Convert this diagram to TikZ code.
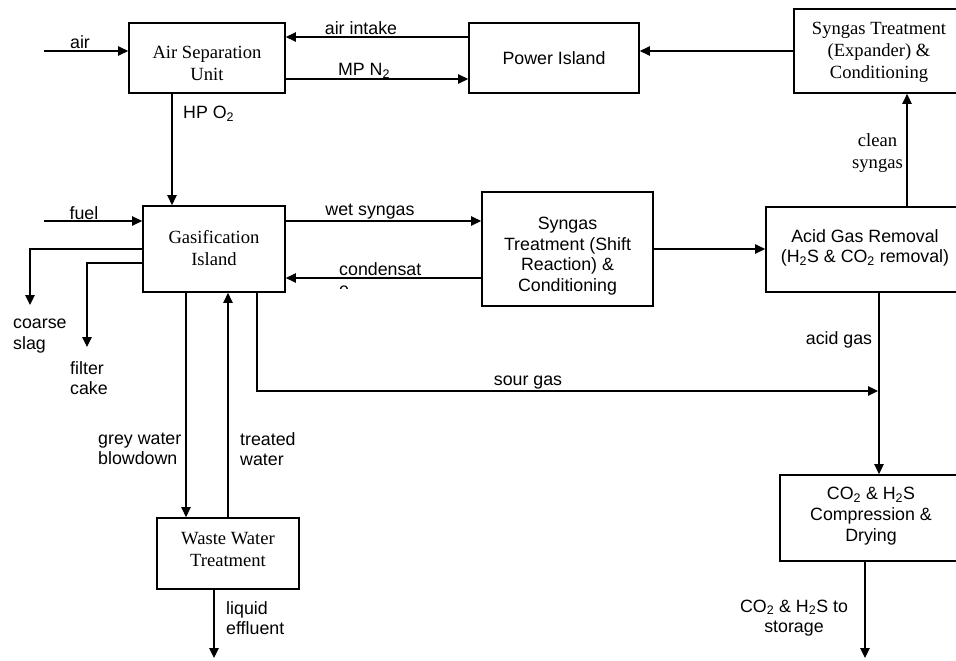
\documentclass[tikz,border=0pt]{standalone}
\usepackage{fontspec}
\setmainfont{Liberation Serif}
\setsansfont{Liberation Sans}
\usetikzlibrary{arrows.meta}
\begin{document}
\begin{tikzpicture}[x=1pt,y=-1pt,
  box/.style={draw,line width=1.8pt,rectangle,inner sep=0pt},
  serift/.style={align=center,inner sep=0pt,font=\rmfamily\fontsize{18.6}{22}\selectfont},
  sanst/.style={align=center,inner sep=0pt,font=\sffamily\fontsize{17.8}{20.7}\selectfont},
  lbl/.style={font=\sffamily\fontsize{17.8}{20.5}\selectfont,inner sep=0pt},
  flow/.style={line width=1.2pt,-{Triangle[length=10pt,width=9.5pt]}}]
\useasboundingbox (0,0) rectangle (956,661);
\clip (0,0) rectangle (956,661);
\fill[white] (0,0) rectangle (956,661);

% boxes
\node[box,minimum width=156pt,minimum height=70pt] (asu) at (207,58) {};
\node[serift] (asut) at (207,63) {Air Separation\\Unit};
\node[box,minimum width=170pt,minimum height=70pt] (power) at (554,58) {};
\node[sanst] (powert) at (554,58) {Power Island};
\node[box,minimum width=200pt,minimum height=84pt] (exp) at (894,51) {};
\node[serift] (expt) at (879,52) {Syngas Treatment\\(Expander) \&\\Conditioning};
\node[box,minimum width=142pt,minimum height=86pt] (gas) at (214,249) {};
\node[serift] (gast) at (214,248) {Gasification\\Island};
\node[box,minimum width=171pt,minimum height=114pt] (shift) at (567.5,249) {};
\node[sanst] (shiftt) at (567.5,256) {Syngas\\Treatment (Shift\\Reaction) \&\\Conditioning};
\node[box,minimum width=228pt,minimum height=85pt] (agr) at (880,249.5) {};
\node[sanst] (agrt) at (865,248) {Acid Gas Removal\\(H\textsubscript{2}S \& CO\textsubscript{2} removal)};
\node[box,minimum width=142pt,minimum height=71pt] (wwt) at (228,553.5) {};
\node[serift] (wwtt) at (228,549.5) {Waste Water\\Treatment};
\node[box,minimum width=210pt,minimum height=86pt] (comp) at (885,518) {};
\node[sanst] (compt) at (871,516) {CO\textsubscript{2} \& H\textsubscript{2}S\\Compression \&\\Drying};

% helper coordinates
\coordinate (airin) at (44,51);
\coordinate (yAI) at (0,37);
\coordinate (yMP) at (0,79);
\coordinate (yPI) at (0,51);
\coordinate (xCS) at (907,0);
\coordinate (xHP) at (172,0);
\coordinate (fuelin) at (44,221);
\coordinate (yWS) at (0,221);
\coordinate (yCD) at (0,278);
\coordinate (ySH) at (0,249);
\coordinate (slag) at (30,305);
\coordinate (yFC) at (0,263);
\coordinate (cake) at (87,347);
\coordinate (xGW) at (186,0);
\coordinate (xTW) at (228,0);
\coordinate (sgknee) at (257,391);
\coordinate (xAG) at (879,0);
\coordinate (sgend) at (878,391);
\coordinate (effl) at (214,658);
\coordinate (stor) at (865,658);

% connectors
\draw[flow] (airin) -- (asu.west |- airin);
\draw[flow] (power.west |- yAI) -- (asu.east |- yAI);
\draw[flow] (asu.east |- yMP) -- (power.west |- yMP);
\draw[flow] (exp.west |- yPI) -- (power.east |- yPI);
\draw[flow] (agr.north -| xCS) -- (exp.south -| xCS);
\draw[flow] (asu.south -| xHP) -- (gas.north -| xHP);
\draw[flow] (fuelin) -- (gas.west |- fuelin);
\draw[flow] (gas.east |- yWS) -- (shift.west |- yWS);
\draw[flow] (shift.west |- yCD) -- (gas.east |- yCD);
\draw[flow] (shift.east |- ySH) -- (agr.west |- ySH);
\draw[flow] (gas.west |- ySH) -| (slag);
\draw[flow] (gas.west |- yFC) -| (cake);
\draw[flow] (gas.south -| xGW) -- (wwt.north -| xGW);
\draw[flow] (wwt.north -| xTW) -- (gas.south -| xTW);
\draw[flow] (gas.south -| sgknee) -- (sgknee) -- (sgend);
\draw[flow] (agr.south -| xAG) -- (comp.north -| xAG);
\draw[flow] (wwt.south -| effl) -- (effl);
\draw[flow] (comp.south -| stor) -- (stor);

% labels
\node[lbl] (lair) at (80,42) {air};
\node[lbl] (lai) at (361,28) {air intake};
\node[lbl] (lmp) at (364,71) {MP N\textsubscript{2}};
\node[lbl,anchor=west] (lhp) at (183,114) {HP O\textsubscript{2}};
\node[serift,anchor=east] (lcs) at (903,153) {clean\\syngas};
\node[lbl] (lfuel) at (84,213) {fuel};
\node[lbl] (lws) at (370,212) {wet syngas};
\begin{scope}
\clip (300,250) rectangle (470,288.5);
\node[lbl,anchor=north west,align=left] (lcd) at (339,262) {condensat\\e};
\end{scope}
\node[lbl,anchor=west,align=left] (lslag) at (13,336) {coarse\\slag};
\node[lbl,anchor=west,align=left] (lcake) at (70,378) {filter\\cake};
\node[lbl] (lsg) at (528,383) {sour gas};
\node[lbl] (lag) at (839,340) {acid gas};
\node[lbl,anchor=west,align=left] (lgw) at (98,449) {grey water\\blowdown};
\node[lbl,anchor=west,align=left] (ltw) at (240,449) {treated\\water};
\node[lbl,anchor=west,align=left] (lle) at (226,618) {liquid\\effluent};
\node[lbl,align=center] (lst) at (794,618) {CO\textsubscript{2} \& H\textsubscript{2}S to\\storage};
\end{tikzpicture}
\end{document}
